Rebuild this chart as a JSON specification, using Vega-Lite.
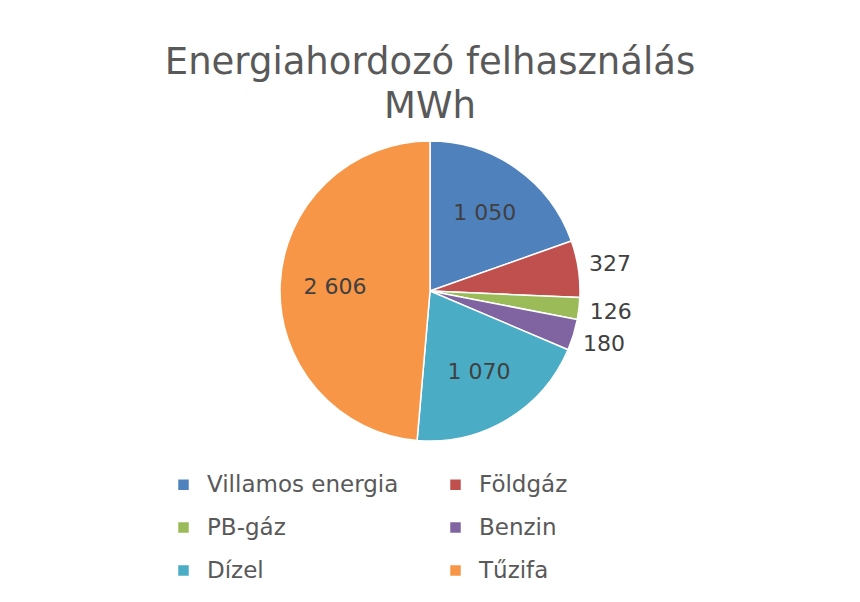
{
  "$schema": "https://vega.github.io/schema/vega-lite/v6.json",
  "width": 860,
  "height": 330,
  "padding": {"left": 0, "right": 0, "top": 44, "bottom": 0},
  "background": "white",
  "title": {
    "text": ["Energiahordozó felhasználás", "MWh"],
    "anchor": "middle",
    "font": "DejaVu Sans",
    "fontSize": 37,
    "fontWeight": "normal",
    "color": "#595959",
    "lineHeight": 44,
    "offset": 0
  },
  "data": {
    "values": [
      {"i": 1, "category": "Villamos energia", "value": 1050},
      {"i": 2, "category": "Földgáz", "value": 327},
      {"i": 3, "category": "PB-gáz", "value": 126},
      {"i": 4, "category": "Benzin", "value": 180},
      {"i": 5, "category": "Dízel", "value": 1070},
      {"i": 6, "category": "Tűzifa", "value": 2606}
    ]
  },
  "encoding": {
    "theta": {"field": "value", "type": "quantitative", "stack": true},
    "order": {"field": "i", "type": "quantitative"}
  },
  "layer": [
    {
      "mark": {"type": "arc", "outerRadius": 150, "stroke": "white", "strokeWidth": 1.5},
      "encoding": {
        "color": {
          "field": "category",
          "type": "nominal",
          "scale": {
            "domain": ["Villamos energia", "Földgáz", "PB-gáz", "Benzin", "Dízel", "Tűzifa"],
            "range": ["#4F81BD", "#C0504D", "#9BBB59", "#8064A2", "#4BACC6", "#F79646"]
          },
          "legend": {
            "title": null,
            "orient": "none",
            "direction": "horizontal",
            "legendX": 172,
            "legendY": 347,
            "columns": 2,
            "columnPadding": 45,
            "rowPadding": 19,
            "symbolType": "square",
            "symbolSize": 110,
            "symbolStrokeWidth": 0,
            "labelFont": "DejaVu Sans",
            "labelFontSize": 23,
            "labelOffset": 12,
            "labelColor": "#595959",
            "labelLimit": 400,
            "symbolOffset": 0
          }
        }
      }
    },
    {
      "mark": {"type": "text", "radius": 95, "font": "DejaVu Sans", "fontSize": 22, "color": "#404040"},
      "encoding": {
        "text": {"condition": {"test": "datum.value >= 400", "field": "value", "type": "quantitative", "format": ",d"}, "value": ""}
      }
    },
    {
      "mark": {"type": "text", "radius": 182, "font": "DejaVu Sans", "fontSize": 22, "color": "#404040"},
      "encoding": {
        "text": {"condition": {"test": "datum.value < 400", "field": "value", "type": "quantitative", "format": ",d"}, "value": ""}
      }
    }
  ],
  "config": {
    "view": {"stroke": null},
    "locale": {
      "number": {"decimal": ",", "thousands": " ", "grouping": [3], "currency": ["", " Ft"]}
    }
  }
}
